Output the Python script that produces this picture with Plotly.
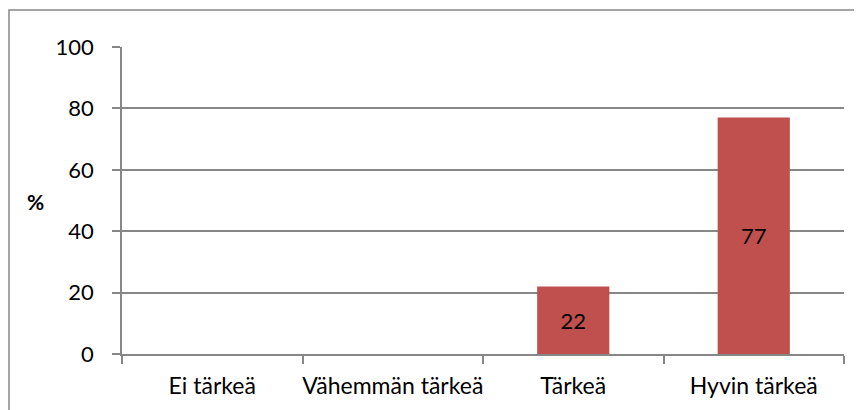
import plotly.graph_objects as go

categories = ["Ei tärkeä", "Vähemmän tärkeä", "Tärkeä", "Hyvin tärkeä"]
values = [0, 0, 22, 77]
y_ticks = [0, 20, 40, 60, 80, 100]

bar_color = "#C0504D"
grey = "#878787"
font_family = "Lato, 'Open Sans', sans-serif"

labels = [str(v) if v else "" for v in values]

fig = go.Figure()

fig.add_trace(go.Bar(x=categories,
                     y=values,
                     text=labels,
                     textposition="inside",
                     insidetextanchor="middle",
                     textfont=dict(color="black", size=22, family=font_family),
                     marker=dict(color=bar_color, line=dict(width=0)),
                     cliponaxis=False))

# page body has an 8px margin, so the figure is shifted by 8px
fig.update_layout(
    width=854,
    height=402,
    margin=dict(l=114, r=18, t=39, b=56, autoexpand=False),
    paper_bgcolor="white",
    plot_bgcolor="white",
    bargap=0.6,
    showlegend=False,
    font=dict(family=font_family, size=22, color="black"),
    xaxis=dict(showline=True, linecolor=grey, linewidth=1.5,
               ticks="outside", tickson="boundaries", ticklen=8,
               tickcolor=grey, tickwidth=1.5, ticklabelstandoff=11,
               tickangle=0, automargin=False,
               showgrid=False, tickfont=dict(size=23)),
    yaxis=dict(range=[0, 100], tickvals=y_ticks, showline=True,
               linecolor=grey, linewidth=1.5, ticks="outside", ticklen=8,
               tickcolor=grey, tickwidth=1.5, showgrid=True,
               gridcolor=grey, gridwidth=1.5, zeroline=False,
               automargin=False,
               ticklabelstandoff=14, tickfont=dict(size=22)),
    shapes=[dict(type="rect", xref="paper", yref="paper",
                 x0=-0.1565, y0=-0.4, x1=1.2, y1=1.1205,
                 line=dict(color=grey, width=1.5), layer="below")],
    annotations=[dict(text="<b>%</b>", xref="paper", yref="paper",
                      x=-0.12, y=0.498, xanchor="center", yanchor="middle",
                      showarrow=False,
                      font=dict(size=21, family=font_family))],
)

fig.write_html("out.html")
